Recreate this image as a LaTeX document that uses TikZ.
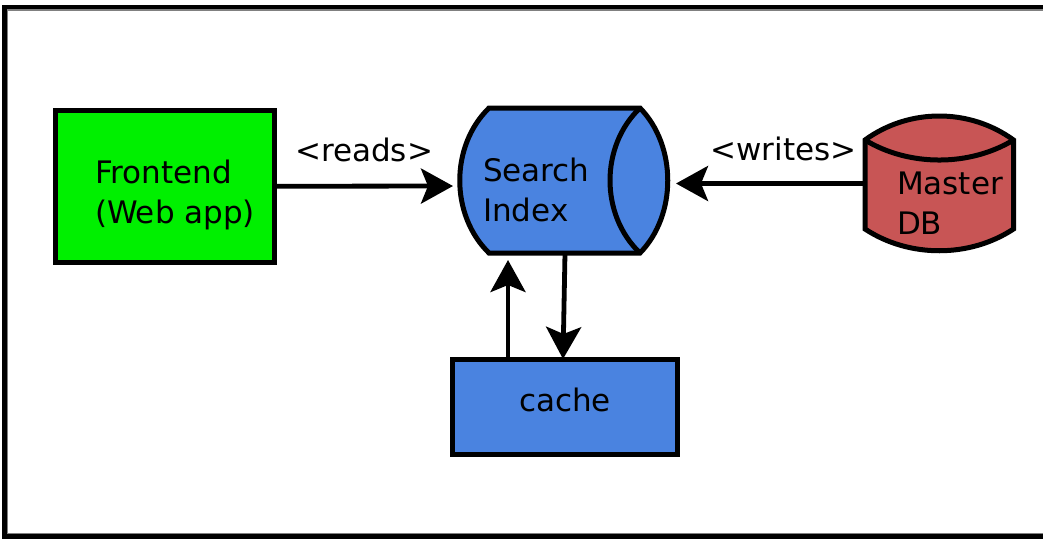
\documentclass[tikz,border=0pt]{standalone}
\usepackage{fontspec}
\setmainfont{DejaVu Sans}
\usetikzlibrary{arrows.meta}
\definecolor{fegreen}{RGB}{0,240,0}
\definecolor{siblue}{RGB}{74,131,224}
\definecolor{dbred}{RGB}{200,85,85}
\newcommand{\twoline}[2]{\vtop{\hbox{#1}\hbox{#2}}}
\tikzset{
  shp/.style={draw=black, line width=5pt, line join=miter},
  txt/.style={inner sep=0pt, outer sep=0pt, font=\fontsize{31}{40}\selectfont, text=black},
  conn/.style={draw=black, line width=4.8pt, -{Stealth[length=32pt, width=35pt, inset=7pt]}},
}
\begin{document}
\begin{tikzpicture}[x=1pt, y=-1pt]
\useasboundingbox (0,0) rectangle (1043,538);
\fill[white] (0,0) rectangle (1043,538);
% frame: open on the right, where it runs out of the picture
\begin{scope}
\clip (0,0) rectangle (1043,538);
\draw[line width=4.5pt] (1060,7.2) -- (4.7,7.2) -- (4.7,536.3) -- (1060,536.3);
\draw[gray, line width=1.3pt] (1060,10.1) -- (7.6,10.1) -- (7.6,533.5) -- (1060,533.5);
\end{scope}

% Frontend
\node[shp, fill=fegreen, minimum width=218.5pt, minimum height=152.5pt, inner sep=0pt] (fe) at (164.75,186.25) {};
\node[txt, anchor=base west] (fetext) at (95,183) {\twoline{Frontend}{(Web app)}};

% Search Index
\draw[shp, fill=siblue] (489,108) -- (640,108)
  .. controls (677,146) and (677,215) .. (640,253) -- (489,253)
  .. controls (450,215) and (450,146) .. (489,108) -- cycle;
\draw[shp] (640,108) .. controls (600,146) and (600,215) .. (640,253);
\node[txt, anchor=base west] (sitext) at (483,181) {\twoline{Search}{Index}};
\coordinate (si-w) at (460,186);
\coordinate (si-e) at (668,183.5);
\coordinate (si-s1) at (508,253);
\coordinate (si-s2) at (565,253);

% Master DB
\draw[shp, fill=dbred] (865,229) -- (865,140)
  .. controls (909,108) and (969.5,108) .. (1013.5,140)
  -- (1013.5,229)
  .. controls (969.5,258) and (909,258) .. (865,229) -- cycle;
\draw[shp] (865,140) .. controls (909,166.7) and (969.5,166.7) .. (1013.5,140);
\node[txt, anchor=base west] (dbtext) at (897,194) {\twoline{Master}{DB}};
\coordinate (db-w) at (865,183.5);

% cache
\node[shp, fill=siblue, minimum width=225pt, minimum height=95pt, inner sep=0pt] (cache) at (565,406.5) {};
\node[txt, anchor=base] (cachetext) at (565,411) {cache};

% connectors
\draw[conn, shorten >=7pt] (fe.east) -- (si-w);
\node[txt, anchor=base] (reads) at (364,161) {<reads>};
\draw[conn, shorten >=8pt] (db-w) -- (si-e);
\node[txt, anchor=base] (writes) at (783.5,160) {<writes>};
\draw[conn, shorten >=7pt] (cache.north -| si-s1) -- (si-s1);
\draw[conn] (si-s2) -- (563,359) coordinate (cache-n2);
\end{tikzpicture}
\end{document}
